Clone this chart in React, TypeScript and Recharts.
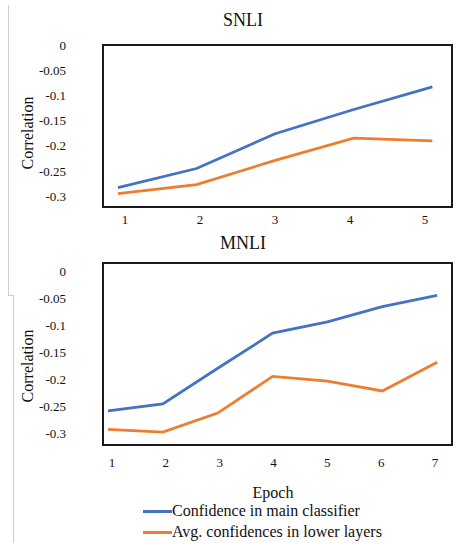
import React from "react";
import {
  LineChart,
  Line,
  XAxis,
  YAxis,
  ReferenceArea,
  Label,
} from "recharts";

const FONT = '"Liberation Serif", "Times New Roman", serif';

const snliEpochs = [1, 2, 3, 4, 5];
const snliMain = [-0.283, -0.245, -0.176, -0.128, -0.083];
const snliLower = [-0.295, -0.277, -0.229, -0.185, -0.19];

const mnliEpochs = [1, 2, 3, 4, 5, 6, 7];
const mnliMain = [-0.259, -0.246, -0.18, -0.115, -0.094, -0.066, -0.045];
const mnliLower = [-0.293, -0.298, -0.263, -0.195, -0.204, -0.222, -0.169];

const yTicks = [0, -0.05, -0.1, -0.15, -0.2, -0.25, -0.3];

const series = [
  { key: "main", name: "Confidence in main classifier", color: "#4472C4" },
  { key: "lower", name: "Avg. confidences in lower layers", color: "#ED7D31" },
];

type PanelProps = {
  top: number;
  marginTop: number;
  height: number;
  epochs: number[];
  main: number[];
  lower: number[];
  dataDomain: [number, number];
  tickDomain: [number, number];
  yDomain: [number, number];
  xTickMargin: number;
  labelDy: number;
};

const Panel = (p: PanelProps) => {
  const data = p.epochs.map((e, i) => ({ epoch: e, main: p.main[i], lower: p.lower[i] }));
  return (
    <div style={{ position: "absolute", left: 0, top: p.top }}>
      <LineChart
        width={456}
        height={p.height}
        data={data}
        margin={{ top: p.marginTop, right: 4, bottom: 0, left: 0 }}
      >
        <XAxis
          xAxisId="ticks"
          dataKey="epoch"
          type="number"
          domain={p.tickDomain}
          allowDataOverflow
          ticks={p.epochs}
          height={30}
          axisLine={false}
          tickLine={false}
          tickMargin={p.xTickMargin}
          tick={{ fontSize: 13, fill: "#111", fontFamily: FONT }}
        />
        <XAxis
          xAxisId="data"
          dataKey="epoch"
          type="number"
          domain={p.dataDomain}
          allowDataOverflow
          height={0}
          hide
        />
        <YAxis
          type="number"
          domain={p.yDomain}
          allowDataOverflow
          ticks={yTicks}
          width={103}
          axisLine={false}
          tickLine={false}
          tickMargin={31}
          tick={{ fontSize: 13, fill: "#111", fontFamily: FONT }}
        >
          <Label
            content={(props: any) => {
              const vb = props.viewBox || { x: 0, y: 0, height: 0 };
              const cx = vb.x + 27;
              const cy = vb.y + vb.height / 2 + p.labelDy;
              return (
                <text
                  x={cx}
                  y={cy}
                  transform={`rotate(-90, ${cx}, ${cy})`}
                  textAnchor="middle"
                  dominantBaseline="central"
                  fontSize={16}
                  fontFamily={FONT}
                  fill="#111"
                >
                  Correlation
                </text>
              );
            }}
          />
        </YAxis>
        <ReferenceArea
          xAxisId="data"
          x1={p.dataDomain[0]}
          x2={p.dataDomain[1]}
          y1={p.yDomain[0]}
          y2={p.yDomain[1]}
          fill="none"
          stroke="#1a1a1a"
          strokeWidth={2}
        />
        {series.map((s) => (
          <Line
            key={s.key}
            xAxisId="data"
            type="linear"
            dataKey={s.key}
            stroke={s.color}
            strokeWidth={2.75}
            dot={false}
            isAnimationActive={false}
          />
        ))}
      </LineChart>
    </div>
  );
};

const titleStyle = (y: number): React.CSSProperties => ({
  position: "absolute",
  left: 0,
  top: y - 11,
  width: 486,
  textAlign: "center",
  fontSize: 18,
  lineHeight: "22px",
  color: "#111",
});

export default function App() {
  return (
    <div
      style={{
        position: "absolute",
        left: 0,
        top: 0,
        width: 456,
        height: 543,
        background: "#fff",
        fontFamily: FONT,
        overflow: "hidden",
      }}
    >
      <div style={{ position: "absolute", left: 8, top: 5, width: 1, height: 290, background: "#cfcfcf" }} />
      <div style={{ position: "absolute", left: 8, top: 295, width: 6, height: 1, background: "#cfcfcf" }} />
      <div style={{ position: "absolute", left: 13, top: 295, width: 1, height: 248, background: "#cfcfcf" }} />

      <Panel
        top={0}
        marginTop={45}
        height={237}
        epochs={snliEpochs}
        main={snliMain}
        lower={snliLower}
        dataDomain={[0.81, 5.25]}
        tickDomain={[0.707, 5.36]}
        yDomain={[-0.3214, 0]}
        xTickMargin={2}
        labelDy={7}
      />
      <Panel
        top={238}
        marginTop={25}
        height={237}
        epochs={mnliEpochs}
        main={mnliMain}
        lower={mnliLower}
        dataDomain={[0.909, 7.27]}
        tickDomain={[0.833, 7.316]}
        yDomain={[-0.322, 0.0148]}
        xTickMargin={7}
        labelDy={12}
      />

      <div style={titleStyle(20)}>SNLI</div>
      <div style={titleStyle(243)}>MNLI</div>

      <div
        style={{
          position: "absolute",
          left: 173,
          top: 484,
          width: 200,
          textAlign: "center",
          fontSize: 16,
          lineHeight: "18px",
          color: "#111",
        }}
      >
        Epoch
      </div>
      {series.map((s, i) => (
        <div
          key={s.key}
          style={{
            position: "absolute",
            left: 143,
            top: 502 + i * 21,
            height: 18,
            lineHeight: "18px",
            display: "flex",
            alignItems: "center",
            fontSize: 16,
            color: "#111",
            whiteSpace: "nowrap",
          }}
        >
          <span style={{ display: "inline-block", width: 29, height: 3, background: s.color }} />
          <span>{s.name}</span>
        </div>
      ))}
    </div>
  );
}
